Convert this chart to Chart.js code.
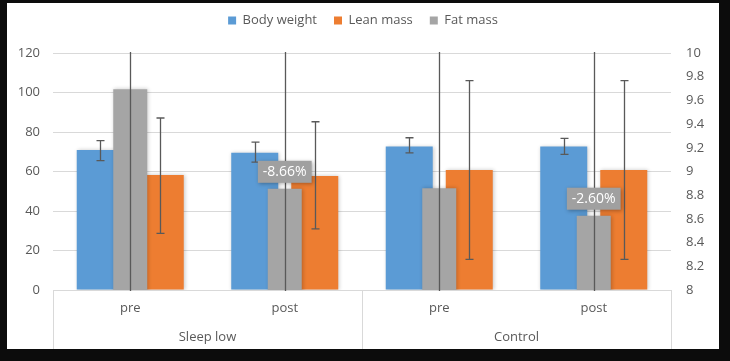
<!DOCTYPE html>
<html><head><meta charset="utf-8">
<script src="https://cdn.jsdelivr.net/npm/chart.js@4/dist/chart.umd.min.js"></script>
<style>
html,body{margin:0;padding:0;background:#0c0c0c;width:730px;height:361px;overflow:hidden}
#wrap{position:absolute;left:7px;top:3px;width:712px;height:346px;background:#fff}
canvas{display:block}
</style></head><body><div id="wrap"><canvas id="c" width="712" height="346"></canvas></div>
<script>
const categories = ['pre', 'post', 'pre', 'post'];
const groups = ['Sleep low', 'Control'];
const bodyWeight = [70.9, 69.5, 72.6, 72.6];
const bodyWeightErrPlus = [4.7, 5.4, 4.5, 4.2];
const bodyWeightErrMinus = [5.4, 4.8, 3.2, 3.9];
const leanMass = [58.2, 57.7, 60.8, 60.8];
const leanMassErrPlus = [28.9, 27.5, 45.2, 45.2];
const leanMassErrMinus = [29.5, 26.8, 45.3, 45.3];
const fatMass = [9.694, 8.854, 8.858, 8.627];
const fatMassErrPlus = [2.5, 2.5, 2.5, 2.5];
const fatMassErrMinus = [2.5, 2.5, 2.5, 2.5];
const fatMassLabels = ['', '-8.66%', '', '-2.60%'];
const leftAxis = { min: 0, max: 120, step: 20 };
const rightAxis = { min: 8, max: 10, step: 0.2 };

const FONT = "'Open Sans', 'Liberation Sans', sans-serif";
const TXT = '#595959';
const FS = 13;

const errorBars = {
  id: 'errorBars',
  afterDatasetsDraw(chart) {
    const ctx = chart.ctx, a = chart.chartArea;
    ctx.save();
    ctx.beginPath();
    ctx.rect(a.left, a.top - 1, a.right - a.left, a.bottom - a.top + 2);
    ctx.clip();
    ctx.strokeStyle = '#595959';
    ctx.lineWidth = 1.3;
    chart.data.datasets.forEach((ds, di) => {
      if (!ds.errPlus) return;
      const meta = chart.getDatasetMeta(di);
      const ys = chart.scales[ds.yAxisID];
      meta.data.forEach((el, i) => {
        const v = ds.data[i];
        const hiV = v + ds.errPlus[i], loV = v - ds.errMinus[i];
        const hi = ys.getPixelForValue(hiV), lo = ys.getPixelForValue(loV);
        const x = Math.round(el.x) + 0.5;
        ctx.beginPath();
        ctx.moveTo(x, hi); ctx.lineTo(x, lo);
        if (hiV <= ys.max) { ctx.moveTo(x - 4, hi); ctx.lineTo(x + 4, hi); }
        if (loV >= ys.min) { ctx.moveTo(x - 4, lo); ctx.lineTo(x + 4, lo); }
        ctx.stroke();
      });
    });
    ctx.restore();
    // value labels
    chart.data.datasets.forEach((ds, di) => {
      if (!ds.boxLabels) return;
      const meta = chart.getDatasetMeta(di);
      meta.data.forEach((el, i) => {
        const t = ds.boxLabels[i];
        if (!t) return;
        ctx.save();
        ctx.font = '14px ' + FONT;
        const w = ctx.measureText(t).width + 10, h = 22;
        const bx = el.x - w / 2, by = el.y - 6 - h;
        ctx.shadowColor = 'rgba(0,0,0,0.3)';
        ctx.shadowBlur = 4;
        ctx.shadowOffsetX = 1; ctx.shadowOffsetY = 1;
        ctx.fillStyle = '#a0a0a0';
        ctx.fillRect(bx, by, w, h);
        ctx.shadowColor = 'transparent';
        ctx.fillStyle = '#ffffff';
        ctx.textAlign = 'center';
        ctx.textBaseline = 'middle';
        ctx.fillText(t, el.x, by + h / 2 + 0.5);
        ctx.restore();
      });
    });
  }
};

const barShadow = {
  id: 'barShadow',
  beforeDatasetDraw(chart) {
    const ctx = chart.ctx;
    ctx.save();
    ctx.shadowColor = 'rgba(0,0,0,0.22)';
    ctx.shadowBlur = 4;
    ctx.shadowOffsetX = 1;
    ctx.shadowOffsetY = 0;
  },
  afterDatasetDraw(chart) { chart.ctx.restore(); }
};

const dividers = {
  id: 'dividers',
  afterDraw(chart) {
    const ctx = chart.ctx, xs = chart.scales.x, a = chart.chartArea;
    const mid = (xs.getPixelForValue(1) + xs.getPixelForValue(2)) / 2;
    ctx.save();
    ctx.strokeStyle = '#d9d9d9';
    ctx.lineWidth = 1;
    [xs.left, mid, xs.right].forEach(px => {
      const x = Math.round(px) + 0.5;
      ctx.beginPath();
      ctx.moveTo(x, a.bottom);
      ctx.lineTo(x, chart.height);
      ctx.stroke();
    });
    ctx.restore();
  }
};

const legendHeight = {
  id: 'legendHeight',
  beforeLayout(chart) {
    const lg = chart.legend;
    if (lg && !lg._patched) {
      const f = lg.fit;
      lg.fit = function () { f.call(this); this.height = 56; };
      lg._patched = true;
    }
  }
};

new Chart(document.getElementById('c'), {
  type: 'bar',
  data: {
    labels: categories,
    datasets: [
      {
        label: 'Body weight', data: bodyWeight, errPlus: bodyWeightErrPlus, errMinus: bodyWeightErrMinus,
        backgroundColor: '#5b9bd5', xAxisID: 'x', yAxisID: 'y', order: 1,
        categoryPercentage: 0.777, barPercentage: 0.783
      },
      {
        label: 'Lean mass', data: leanMass, errPlus: leanMassErrPlus, errMinus: leanMassErrMinus,
        backgroundColor: '#ed7d31', xAxisID: 'x', yAxisID: 'y', order: 1,
        categoryPercentage: 0.777, barPercentage: 0.783
      },
      {
        label: 'Fat mass', data: fatMass, errPlus: fatMassErrPlus, errMinus: fatMassErrMinus,
        boxLabels: fatMassLabels,
        backgroundColor: '#a5a5a5', xAxisID: 'x', yAxisID: 'y2', order: 0, grouped: false,
        categoryPercentage: 1, barPercentage: 0.22
      }
    ]
  },
  options: {
    responsive: false,
    animation: false,
    devicePixelRatio: 1,
    layout: { padding: { top: -6, left: 0, right: 0, bottom: 0 } },
    plugins: {
      tooltip: { enabled: false },
      legend: {
        position: 'top',
        labels: {
          boxWidth: 8, boxHeight: 8, padding: 17, color: TXT,
          font: { family: FONT, size: FS },
          sort: (a, b) => a.datasetIndex - b.datasetIndex
        }
      }
    },
    scales: {
      x: {
        type: 'category', position: 'bottom', offset: true,
        grid: { display: false, drawTicks: false },
        border: { display: false },
        ticks: { color: TXT, font: { family: FONT, size: FS }, padding: 10 },
        afterFit(s) { s.height = 30; }
      },
      xg: {
        type: 'category', position: 'bottom', offset: true, labels: groups,
        grid: { display: false, drawTicks: false },
        border: { display: false },
        ticks: { color: TXT, font: { family: FONT, size: FS }, padding: 9 },
        afterFit(s) { s.height = 29; }
      },
      y: {
        position: 'left', min: leftAxis.min, max: leftAxis.max,
        ticks: { stepSize: leftAxis.step, color: TXT, font: { family: FONT, size: FS }, padding: 13 },
        grid: { color: '#d9d9d9', drawTicks: false },
        border: { display: false },
        afterFit(s) { s.width = 46; }
      },
      y2: {
        position: 'right', min: rightAxis.min, max: rightAxis.max, beginAtZero: false,
        ticks: {
          stepSize: rightAxis.step, color: TXT, font: { family: FONT, size: FS }, padding: 15,
          callback: v => String(+Number(v).toFixed(1))
        },
        grid: { display: false, drawTicks: false },
        border: { display: false },
        afterFit(s) { s.width = 48; }
      }
    }
  },
  plugins: [legendHeight, barShadow, errorBars, dividers]
});
</script>
</body></html>
